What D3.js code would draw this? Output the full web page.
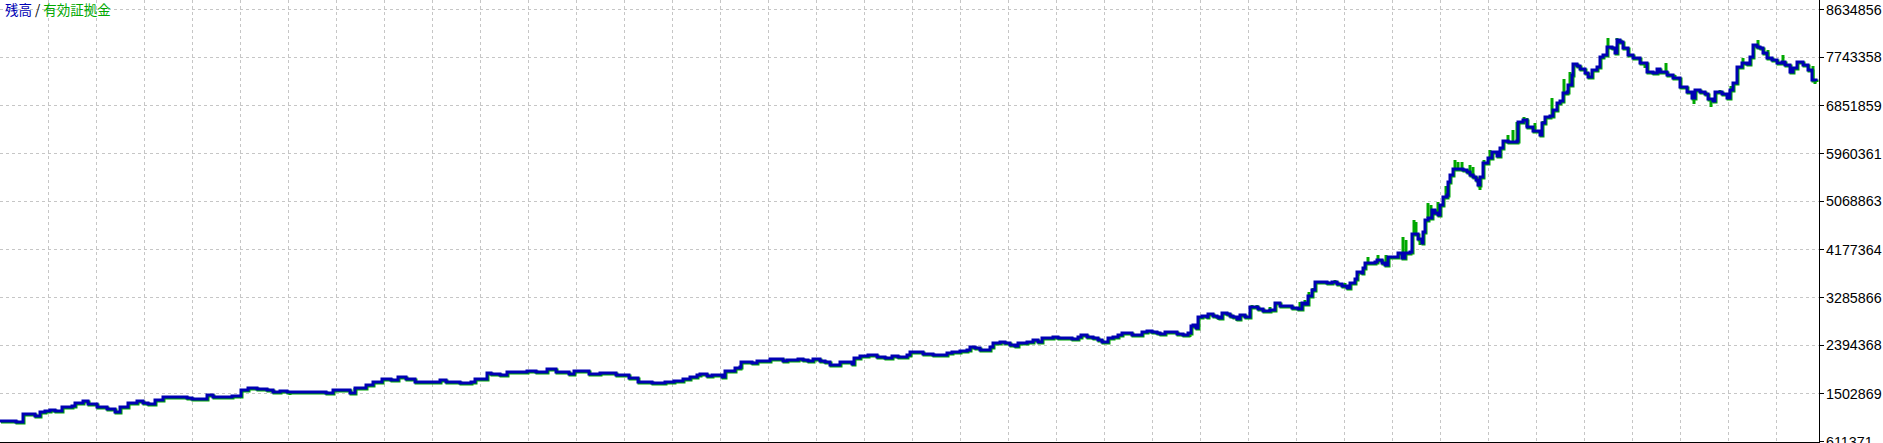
<!DOCTYPE html>
<html>
<head>
<meta charset="utf-8">
<title>残高 / 有効証拠金</title>
<style>
  body { margin: 0; background: #fff; }
  svg { display: block; background: #fff; }
  .grid line { stroke: #c6c6c6; stroke-width: 1; stroke-dasharray: 3,3; shape-rendering: crispEdges; }
  .frame { stroke: #000; stroke-width: 1; shape-rendering: crispEdges; }
  .ylab { font: 14.3px "Liberation Sans", Arial, sans-serif; fill: #000; }
  .legend { font: 13.5px "Noto Sans CJK JP", sans-serif; }
</style>
</head>
<body>
<script src="https://cdn.jsdelivr.net/npm/d3@7/dist/d3.min.js"></script>
<script>
// values in thousands; x is the trade number
const trades = [
  0, 13, 16, 22, 23, 30, 35, 40, 45, 50,
  55, 62, 72, 75, 83, 88, 97, 107, 115, 120,
  128, 137, 143, 148, 155, 163, 177, 187, 192, 207,
  213, 227, 232, 241, 248, 257, 267, 273, 280, 287,
  326, 333, 344, 350, 355, 366, 373, 382, 391, 398,
  406, 415, 429, 440, 446, 460, 471, 475, 487, 491,
  500, 507, 520, 527, 536, 547, 556, 569, 574, 583,
  589, 600, 616, 629, 638, 652, 665, 674, 683, 690,
  697, 700, 707, 712, 722, 725, 735, 740, 741, 752,
  757, 770, 783, 787, 798, 803, 808, 813, 820, 825,
  830, 840, 852, 854, 860, 868, 877, 885, 892, 898,
  907, 910, 923, 933, 947, 952, 960, 967, 970, 975,
  980, 990, 993, 1000, 1005, 1010, 1015, 1018, 1027, 1033,
  1038, 1042, 1053, 1058, 1072, 1078, 1081, 1087, 1093, 1098,
  1102, 1108, 1113, 1118, 1122, 1132, 1142, 1147, 1152, 1157,
  1160, 1165, 1177, 1183, 1188, 1191, 1193, 1196, 1198, 1202,
  1207, 1208, 1213, 1217, 1219, 1222, 1227, 1230, 1233, 1237,
  1240, 1245, 1250, 1258, 1263, 1270, 1275, 1280, 1292, 1298,
  1302, 1305, 1308, 1312, 1315, 1327, 1332, 1337, 1342, 1347,
  1350, 1355, 1357, 1362, 1363, 1365, 1375, 1377, 1382, 1385,
  1388, 1398, 1402, 1405, 1410, 1412, 1418, 1422, 1423, 1425,
  1428, 1432, 1435, 1438, 1440, 1443, 1447, 1448, 1450, 1453,
  1463, 1467, 1470, 1473, 1476, 1478, 1480, 1483, 1488, 1492,
  1497, 1500, 1503, 1508, 1517, 1518, 1523, 1527, 1533, 1540,
  1542, 1545, 1550, 1553, 1557, 1560, 1563, 1567, 1568, 1572,
  1573, 1577, 1580, 1585, 1588, 1592, 1597, 1600, 1603, 1607,
  1612, 1615, 1617, 1620, 1623, 1628, 1633, 1640, 1647, 1653,
  1657, 1660, 1667, 1673, 1680, 1687, 1692, 1695, 1700, 1705,
  1708, 1713, 1715, 1722, 1727, 1730, 1733, 1737, 1742, 1747,
  1750, 1753, 1757, 1760, 1763, 1767, 1772, 1777, 1782, 1785,
  1790, 1793, 1797, 1803, 1808, 1812, 1816
];
const balance = [
  988, 988, 970, 970, 1118, 1118, 1081, 1155, 1174, 1193,
  1174, 1248, 1267, 1323, 1360, 1304, 1248, 1211, 1155, 1248,
  1323, 1360, 1323, 1304, 1378, 1434, 1434, 1415, 1397, 1471,
  1434, 1434, 1453, 1564, 1601, 1583, 1564, 1527, 1546, 1527,
  1508, 1564, 1564, 1508, 1601, 1657, 1713, 1768, 1750, 1806,
  1768, 1713, 1713, 1750, 1713, 1694, 1713, 1768, 1880, 1861,
  1843, 1898, 1898, 1917, 1898, 1954, 1898, 1861, 1917, 1917,
  1861, 1880, 1843, 1787, 1713, 1694, 1713, 1731, 1768, 1806,
  1843, 1861, 1824, 1843, 1806, 1917, 1973, 1991, 2084, 2066,
  2103, 2140, 2103, 2121, 2140, 2121, 2103, 2140, 2103, 2084,
  2028, 2084, 2047, 2158, 2196, 2214, 2177, 2158, 2196, 2177,
  2214, 2270, 2233, 2214, 2251, 2270, 2288, 2307, 2363, 2344,
  2307, 2363, 2437, 2456, 2437, 2400, 2381, 2437, 2456, 2493,
  2456, 2530, 2548, 2530, 2511, 2548, 2586, 2548, 2530, 2493,
  2456, 2530, 2548, 2586, 2623, 2586, 2641, 2660, 2641, 2623,
  2604, 2641, 2604, 2586, 2623, 2753, 2771, 2716, 2920, 2939,
  2920, 2976, 2939, 2920, 2901, 2994, 2976, 2939, 2920, 2883,
  2957, 2920, 3106, 3069, 3031, 3050, 3180, 3124, 3087, 3069,
  3180, 3161, 3310, 3421, 3570, 3551, 3570, 3533, 3496, 3459,
  3551, 3626, 3756, 3737, 3830, 3923, 3941, 3979, 3923, 3886,
  4034, 4109, 4016, 4109, 4127, 4461, 4369, 4294, 4499, 4722,
  4759, 4907, 4852, 4814, 5000, 5149, 5186, 5427, 5557, 5669,
  5650, 5613, 5557, 5520, 5464, 5372, 5520, 5780, 5873, 5984,
  5910, 6059, 6189, 6170, 6189, 6542, 6579, 6449, 6374, 6300,
  6523, 6635, 6653, 6765, 6895, 6932, 7080, 7099, 7229, 7415,
  7619, 7582, 7526, 7452, 7378, 7507, 7563, 7749, 7786, 7935,
  7916, 7823, 8065, 8027, 7916, 7786, 7730, 7637, 7470, 7452,
  7526, 7470, 7415, 7359, 7192, 7099, 6987, 7136, 7099, 7062,
  6969, 6932, 7099, 7062, 6987, 7136, 7266, 7563, 7637, 7619,
  7749, 7972, 7935, 7916, 7823, 7730, 7693, 7637, 7656, 7600,
  7470, 7545, 7656, 7600, 7507, 7322, 7303
];
// equity where it moves away from the balance (open trades)
const equityTrades = [
  290, 355, 1190, 1219, 1237, 1252, 1257, 1270, 1300, 1305,
  1309, 1313, 1335, 1345, 1358, 1368, 1378, 1386, 1403, 1406,
  1414, 1416, 1420, 1428, 1431, 1438, 1446, 1455, 1458, 1462,
  1470, 1473, 1480, 1484, 1490, 1508, 1513, 1517, 1524, 1527,
  1535, 1543, 1552, 1564, 1570, 1608, 1617, 1621, 1639, 1645,
  1666, 1675, 1694, 1711, 1720, 1731, 1743, 1758, 1768, 1783,
  1813, 1815
];
const equity = [
  1471, 1546, 2548, 2864, 2846, 3143, 3143, 3106, 3199, 3236,
  3384, 3459, 3607, 3551, 3681, 4034, 4071, 4071, 4406, 4350,
  4722, 4684, 4257, 5037, 5000, 5056, 5353, 5836, 5799, 5799,
  5743, 5706, 5279, 5836, 6022, 6300, 6393, 6542, 6635, 6616,
  6523, 6560, 6987, 7340, 7470, 8102, 8102, 8065, 7749, 7545,
  7637, 7415, 6876, 6820, 7136, 7210, 7730, 8065, 7879, 7786,
  7582, 7247
];
const yTickLabels = ['611371', '1502869', '2394368', '3285866', '4177364',
  '5068863', '5960361', '6851859', '7743358', '8634856'];
const legendParts = [['残高', '#0000b4'], [' / ', '#000'], ['有効証拠金', '#00a800']];

const width = 1883;
const height = 443;
const plotRight = 1819;
const plotBottom = 442;
const gridStep = 48;

const svg = d3.select('body').append('svg')
  .attr('width', width)
  .attr('height', height);

const x = d3.scaleLinear().domain([0, 1819]).range([0, plotRight]);
const y = d3.scaleLinear()
  .domain([+yTickLabels[0] / 1000, +yTickLabels[yTickLabels.length - 1] / 1000])
  .range([441.3, 9.3]);

// grid
const grid = svg.append('g').attr('class', 'grid');
grid.selectAll('line.v')
  .data(d3.range(gridStep, plotRight, gridStep))
  .join('line')
    .attr('class', 'v')
    .attr('x1', (d) => x(d)).attr('x2', (d) => x(d))
    .attr('y1', 0).attr('y2', plotBottom);
grid.selectAll('line.h')
  .data(yTickLabels.slice(1))
  .join('line')
    .attr('class', 'h')
    .attr('x1', 0).attr('x2', plotRight)
    .attr('y1', (d) => y(d / 1000)).attr('y2', (d) => y(d / 1000));

const pts = trades.map((t, i) => [t, balance[i]]);
const line = d3.line()
  .x((d) => x(d[0]))
  .y((d) => y(d[1]))
  .curve(d3.curveStepAfter);

// equity underlay
svg.append('path')
  .datum(pts)
  .attr('d', line)
  .attr('fill', 'none')
  .attr('stroke', '#00a800')
  .attr('stroke-width', 3)
  .attr('transform', 'translate(1,1)');

const bis = d3.bisector((d) => d).right;
function balanceAt(t) {
  return balance[Math.max(0, bis(trades, t) - 1)];
}

svg.append('g')
  .selectAll('line')
  .data(equityTrades)
  .join('line')
    .attr('x1', (d) => x(d)).attr('x2', (d) => x(d))
    .attr('y1', (d) => y(balanceAt(d)))
    .attr('y2', (d, i) => y(equity[i]))
    .attr('stroke', '#00a800')
    .attr('stroke-width', 3);

// balance
svg.append('path')
  .datum(pts)
  .attr('d', line)
  .attr('fill', 'none')
  .attr('stroke', '#0000b4')
  .attr('stroke-width', 3);

// frame + right axis
svg.append('line').attr('class', 'frame')
  .attr('x1', plotRight + 0.5).attr('x2', plotRight + 0.5)
  .attr('y1', 0).attr('y2', height);
svg.append('line').attr('class', 'frame')
  .attr('x1', 0).attr('x2', plotRight)
  .attr('y1', plotBottom + 0.5).attr('y2', plotBottom + 0.5);

const ticks = svg.append('g');
ticks.selectAll('line')
  .data(yTickLabels)
  .join('line')
    .attr('class', 'frame')
    .attr('x1', plotRight).attr('x2', plotRight + 5)
    .attr('y1', (d) => Math.round(y(d / 1000)) + 0.5)
    .attr('y2', (d) => Math.round(y(d / 1000)) + 0.5);
ticks.selectAll('text')
  .data(yTickLabels)
  .join('text')
    .attr('class', 'ylab')
    .attr('x', plotRight + 7)
    .attr('y', (d) => y(d / 1000) + 5.2)
    .text((d) => d);

// legend
const legend = svg.append('text')
  .attr('class', 'legend')
  .attr('x', 5)
  .attr('y', 15);
legend.selectAll('tspan')
  .data(legendParts)
  .join('tspan')
    .attr('fill', (d) => d[1])
    .style('white-space', 'pre')
    .text((d) => d[0]);
</script>
</body>
</html>
